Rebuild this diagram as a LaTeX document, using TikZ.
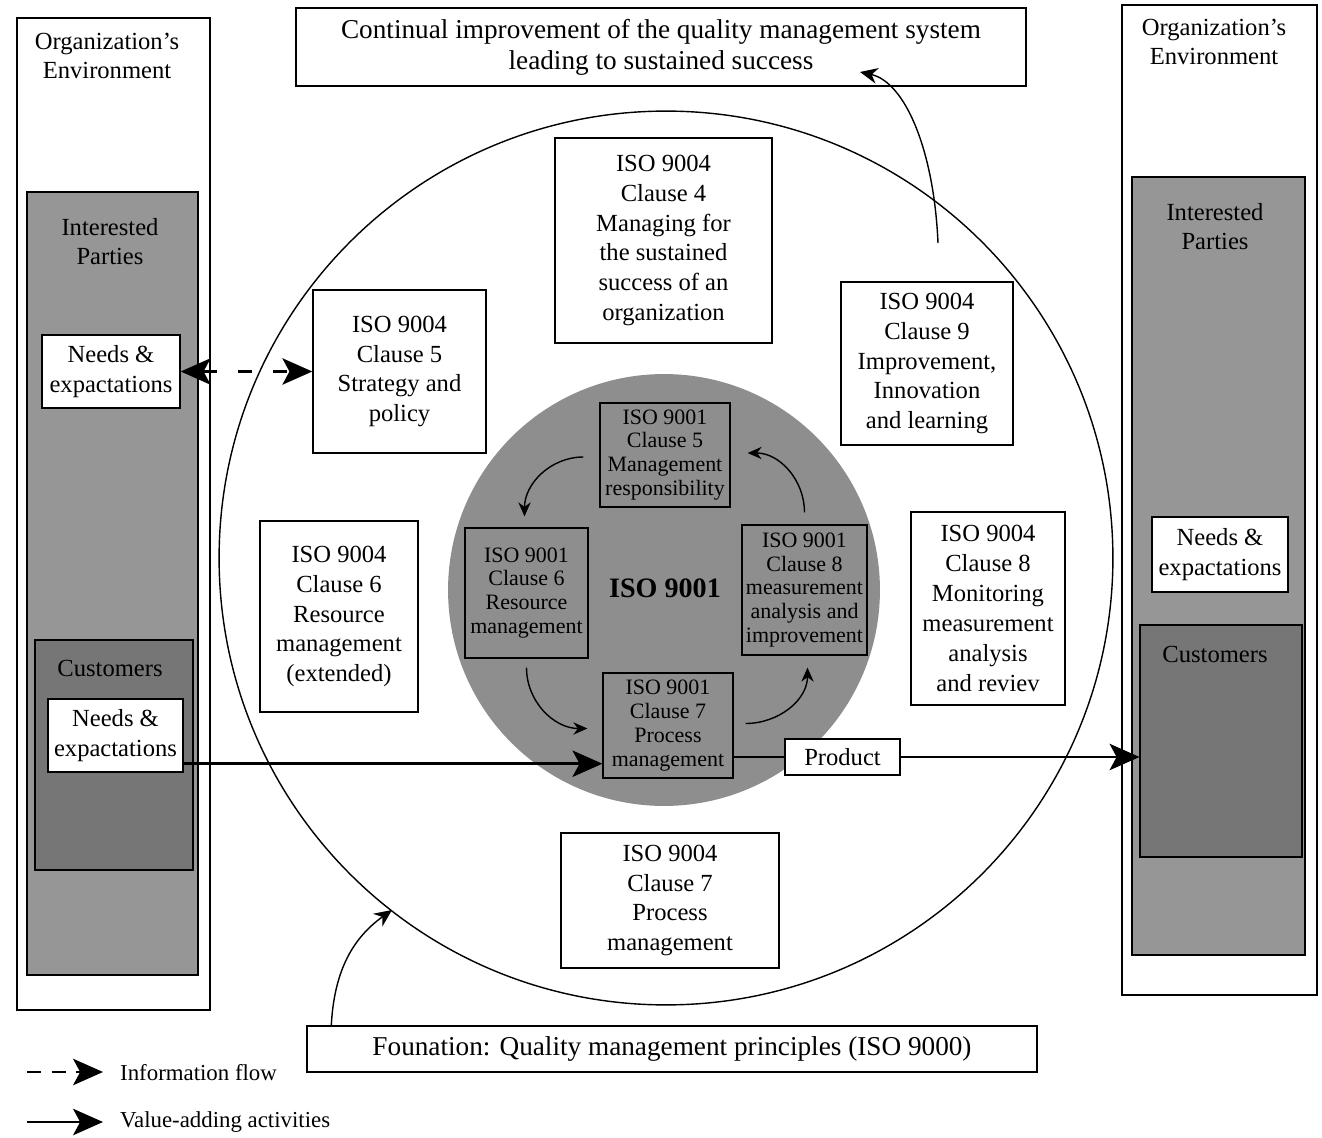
\documentclass[tikz,border=0pt]{standalone}
\usepackage{fontspec}
\setmainfont{Liberation Serif}
\usepackage{tikz}
\usetikzlibrary{arrows.meta,calc}
\definecolor{partygray}{RGB}{150,150,150}
\definecolor{custgray}{RGB}{118,118,118}
\definecolor{coregray}{RGB}{142,142,142}

\tikzset{
  wh/.style 2 args={minimum width=#1*0.02cm, minimum height=#2*0.02cm},
  box/.style={draw, line width=0.8pt, inner sep=0pt, align=center,
    font=\fontsize{14}{17}\selectfont},
  whitebox/.style={box, fill=white},
  corebox/.style={draw, line width=0.7pt, inner sep=0pt, align=center,
    font=\fontsize{12.5}{13.6}\selectfont},
  shade/.style={draw, line width=0.6pt, inner sep=0pt},
  lbl/.style={align=center, font=\fontsize{14}{16.5}\selectfont},
  bigtip/.tip={Stealth[length=17pt,width=15pt,inset=4pt]},
  valarrow/.style={line width=1.6pt, -{bigtip}},
  infoarrow/.style={line width=1.6pt, dash pattern=on 8pt off 12pt, {bigtip}-{bigtip}},
  looparrow/.style={line width=0.8pt, -{Stealth[length=8pt,width=7pt]}},
  thinarrow/.style={line width=0.8pt, -{Stealth[length=10pt,width=9pt]}},
}

\begin{document}
\begin{tikzpicture}[x=0.02cm, y=-0.02cm]
\useasboundingbox (0,0) rectangle (1322,1138);

% ---- environment columns ----
\node[box, wh={193}{992}] (lenv) at (113.5,514) {};
\node[lbl] (lenvt) at (107,56) {Organization's\\Environment};
\node[shade, fill=partygray, wh={171}{783}] (lip) at (112.5,583.5) {};
\node[lbl] (lipt) at (110,242) {Interested\\Parties};
\node[shade, fill=custgray, wh={158}{230}] (lcust) at (114,755) {};
\node[lbl] (lcustt) at (110,668) {Customers};
\node[whitebox, wh={138}{73}] (lneeds) at (111,371.5) {Needs \&\\expactations};
\node[whitebox, wh={135}{73}] (lneedsc) at (115.5,735.5) {Needs \&\\expactations};

\node[box, wh={195}{990}] (renv) at (1219.5,500) {};
\node[lbl] (renvt) at (1214,42) {Organization's\\Environment};
\node[shade, fill=partygray, wh={173}{778}] (rip) at (1218.5,566) {};
\node[lbl] (ript) at (1215,227) {Interested\\Parties};
\node[whitebox, wh={136}{75}] (rneeds) at (1220,554.5) {Needs \&\\expactations};
\node[shade, fill=custgray, wh={162}{232}] (rcust) at (1221,741) {};
\node[lbl] (rcustt) at (1215,654) {Customers};

% ---- ISO 9004 circle ----
\draw[line width=0.8pt] (666,558) circle[radius=8.94cm];
\node[box, wh={730}{78}, font=\fontsize{15.5}{17.5}\selectfont] (top) at (661,47)
  {Continual improvement of the quality management system\\leading to sustained success};
\node[box, wh={217}{205}] (c4) at (663.5,240.5) {ISO 9004\\Clause 4\\Managing for\\the sustained\\success of an\\organization};
\node[box, wh={173}{163}] (c5) at (399.5,371.5) {ISO 9004\\Clause 5\\Strategy and\\policy};
\node[box, wh={172}{163}] (c9) at (927,363.5) {ISO 9004\\Clause 9\\Improvement,\\Innovation\\and learning};
\node[box, wh={158}{191}] (c6) at (339,616.5) {ISO 9004\\Clause 6\\Resource\\management\\(extended)};
\node[box, wh={154}{193}] (c8) at (988,608.5) {ISO 9004\\Clause 8\\Monitoring\\measurement\\analysis\\and reviev};
\node[box, wh={218}{135}] (c7) at (670,900.5) {ISO 9004\\Clause 7\\Process\\management};
\node[box, wh={730}{46}, font=\fontsize{15.5}{17}\selectfont] (found) at (672,1049)
  {Founation: Quality management principles (ISO 9000)};

% ---- ISO 9001 core ----
\fill[coregray] (664,590) circle[radius=4.32cm];
\node[font=\fontsize{16}{18}\selectfont\bfseries] (core) at (665,588) {ISO 9001};
\node[corebox, wh={130}{104}] (q5) at (665,455) {ISO 9001\\Clause 5\\Management\\responsibility};
\node[corebox, wh={123}{130}] (q6) at (526.5,593) {ISO 9001\\Clause 6\\Resource\\management};
\node[corebox, wh={125}{130}] (q8) at (804.5,590) {ISO 9001\\Clause 8\\measurement\\analysis and\\improvement};
\node[corebox, wh={130}{105}] (q7) at (668,725.5) {ISO 9001\\Clause 7\\Process\\management};
\node[whitebox, wh={115}{36}] (prod) at (842.5,757) {Product};

% PDCA loop
\draw[looparrow] ($(q5.west)+(-16,2)$) to[out=180,in=90] ($(q6.north)+(-2,-11)$);
\draw[looparrow] ($(q6.south)+(0,9)$) to[out=-90,in=180] ($(q7.west)+(-15,3)$);
\draw[looparrow] ($(q7.east)+(12,-2)$) to[out=0,in=-90] ($(q8.south)+(3,12)$);
\draw[looparrow] ($(q8.north)+(0,-12)$) to[out=90,in=0] ($(q5.east)+(17,-2)$);

% ---- flows ----
\draw[infoarrow] (lneeds.east) -- (lneeds.east -| c5.west);
\coordinate (vs) at ($(lneedsc.south east)+(0,-9)$);
\draw[valarrow] (vs) -- (vs -| q7.west);
\draw[line width=1.6pt] (prod.west -| q7.east) -- (prod.west);
\draw[valarrow] (prod.east) -- (prod.east -| rcust.west);

\coordinate (impfoot) at (938,243);
\coordinate (imptip) at (860,72);
\draw[thinarrow] (impfoot) .. controls (934,150) and (905,82) .. (imptip);
\coordinate (foundfoot) at ($(found.north west)+(25,0)$);
\coordinate (foundtip) at (392,910);
\draw[thinarrow] (foundfoot) .. controls (334,975) and (350,940) .. (foundtip);

% ---- legend ----
\coordinate (infoA) at (27,1072);
\coordinate (infoB) at (103,1072);
\coordinate (valA) at (27,1122);
\coordinate (valB) at (103,1122);
\draw[line width=1.6pt, dash pattern=on 8pt off 6pt, -{bigtip}] (infoA) -- (infoB);
\draw[valarrow] (valA) -- (valB);
\node[anchor=west, font=\fontsize{13}{15}\selectfont] (infot) at (114,1073) {Information flow};
\node[anchor=west, font=\fontsize{13}{15}\selectfont] (valt) at (114,1122) {Value-adding activities};

\end{tikzpicture}
\end{document}
